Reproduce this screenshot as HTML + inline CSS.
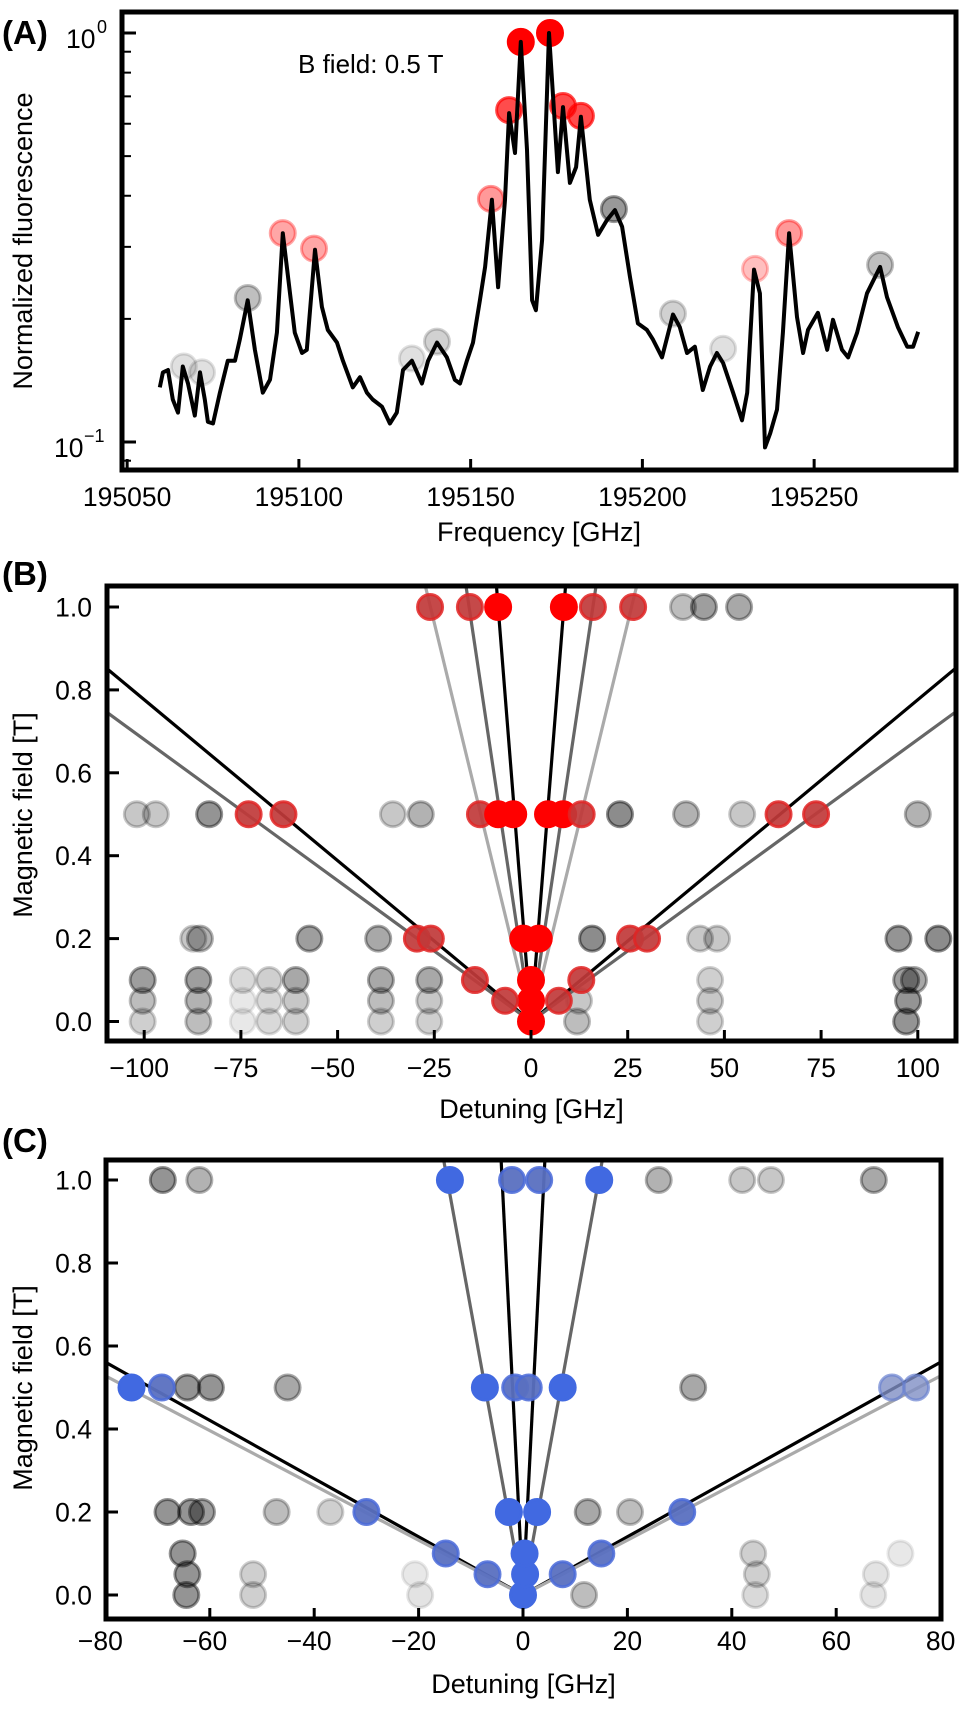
<!DOCTYPE html>
<html><head><meta charset="utf-8"><style>
html,body{margin:0;padding:0;background:#fff;}
svg{display:block;font-family:"Liberation Sans",Arial,sans-serif;}
</style></head><body>
<svg id="fig" width="969" height="1712" viewBox="0 0 969 1712" xmlns="http://www.w3.org/2000/svg">
<defs>
<clipPath id="clipA"><rect x="122" y="12" width="834" height="458"/></clipPath>
<clipPath id="clipB"><rect x="107" y="586" width="849" height="455"/></clipPath>
<clipPath id="clipC"><rect x="106" y="1160" width="835" height="459"/></clipPath>
</defs>
<g id="gA"></g>
<g id="gB"></g>
<g id="gC"></g>
</svg>
<script>
// ---------- Panel A data ----------
const specFreq = [195059.5,195060.4,195061.9,195063.3,195064.8,195066.2,195067.7,195069.7,195071.2,195072.6,195073.5,195075.0,195077.0,195079.3,195081.4,195082.8,195085.1,195087.2,195089.5,195091.6,195093.6,195095.3,195097.4,195098.8,195100.9,195102.3,195104.7,195106.7,195108.4,195111.1,195112.8,195115.7,195117.8,195119.8,195121.5,195124.2,195126.5,195128.5,195130.3,195132.9,195134.4,195135.8,195137.6,195140.2,195143.1,195145.4,195146.9,195148.9,195150.7,195152.7,195154.2,195156.2,195158.0,195160.0,195161.2,195162.9,195164.6,195166.4,195167.9,195169.0,195170.8,195172.8,195175.4,195176.9,195178.9,195180.7,195182.1,195184.7,195187.1,195189.7,195192.0,195194.1,195196.4,195198.7,195201.3,195203.1,195205.7,195208.9,195210.9,195213.0,195215.3,195217.6,195219.7,195221.7,195223.5,195226.4,195229.0,195230.5,195232.5,195234.2,195235.7,195237.2,195239.2,195240.9,195242.7,195245.0,195246.8,195248.2,195251.1,195253.8,195255.5,195258.1,195259.9,195262.5,195265.4,195269.2,195271.2,195274.4,195277.1,195278.8,195280.3];
const specValue = [0.136,0.148,0.150,0.127,0.118,0.153,0.139,0.116,0.148,0.127,0.112,0.111,0.132,0.158,0.158,0.178,0.222,0.168,0.132,0.142,0.185,0.324,0.231,0.185,0.165,0.168,0.295,0.214,0.188,0.175,0.158,0.136,0.144,0.132,0.127,0.122,0.111,0.118,0.150,0.158,0.148,0.139,0.158,0.175,0.161,0.142,0.139,0.158,0.175,0.222,0.268,0.391,0.239,0.391,0.637,0.509,0.951,0.518,0.222,0.210,0.312,1.0,0.457,0.659,0.430,0.470,0.624,0.391,0.321,0.349,0.369,0.336,0.253,0.195,0.188,0.178,0.161,0.205,0.191,0.165,0.171,0.134,0.153,0.165,0.156,0.132,0.113,0.132,0.264,0.231,0.097,0.105,0.120,0.185,0.324,0.202,0.165,0.188,0.207,0.168,0.199,0.168,0.161,0.185,0.231,0.268,0.226,0.191,0.171,0.171,0.186];
const peakFreq = [195066.5,195071.8,195085.1,195095.3,195104.4,195132.9,195140.2,195155.9,195161.2,195164.6,195173.1,195176.9,195182.1,195191.7,195208.9,195223.5,195232.8,195242.7,195269.2];
const peakValue = [0.153,0.148,0.225,0.324,0.297,0.160,0.176,0.393,0.648,0.951,1.0,0.663,0.627,0.371,0.206,0.169,0.265,0.324,0.271];
const peakColor = ['k','k','k','r','r','k','k','r','r','r','r','r','r','k','k','k','r','r','k'];
const peakAlpha = [0.12,0.12,0.25,0.35,0.35,0.12,0.18,0.4,0.7,1,1,0.7,0.7,0.4,0.18,0.12,0.25,0.4,0.25];
const aXTicks = [195050,195100,195150,195200,195250];

// ---------- Panel B data ----------
const bRedDet   = [0,0,-6.7,7.2,0,-14.5,13,-2,2,-29.5,-25.9,25.6,30,-73,-64,-13.2,-8.5,-4.6,4.4,8.3,13.1,64,73.7,-26.1,-15.8,-8.5,8.5,16,26.4];
const bRedField = [0,0.05,0.05,0.05,0.1,0.1,0.1,0.2,0.2,0.2,0.2,0.2,0.2,0.5,0.5,0.5,0.5,0.5,0.5,0.5,0.5,0.5,0.5,1,1,1,1,1,1];
const bRedLevel = [1,1,2,2,1,2,2,1,1,2,2,2,2,2,2,2,1,1,1,1,2,2,2,2,2,1,1,2,2];
const bGrayDet   = [39.3,44.7,53.8,-101.9,-97,-83.2,-35.7,-28.5,23,40.1,54.6,100,-87.3,-85.6,-57.3,-39.5,15.8,43.7,48.1,95,105.3,-100.4,-100.4,-100.4,-86,-86,-86,-74.5,-74.5,-74.5,-67.7,-67.7,-67.7,-60.8,-60.8,-60.8,-38.8,-38.8,-38.8,-26.3,-26.3,-26.3,12.4,11.9,46.3,46.3,46.3,97,99,97.5,97];
const bGrayField = [1,1,1,0.5,0.5,0.5,0.5,0.5,0.5,0.5,0.5,0.5,0.2,0.2,0.2,0.2,0.2,0.2,0.2,0.2,0.2,0.1,0.05,0,0.1,0.05,0,0.1,0.05,0,0.1,0.05,0,0.1,0.05,0,0.1,0.05,0,0.1,0.05,0,0.05,0,0.1,0.05,0,0.1,0.1,0.05,0];
const bGrayAlpha = [0.26,0.38,0.34,0.22,0.22,0.42,0.22,0.3,0.45,0.3,0.22,0.3,0.22,0.3,0.38,0.34,0.45,0.22,0.22,0.42,0.45,0.38,0.26,0.19,0.38,0.3,0.26,0.15,0.09,0.09,0.19,0.15,0.15,0.34,0.22,0.19,0.34,0.26,0.19,0.34,0.22,0.19,0.22,0.26,0.19,0.22,0.19,0.38,0.34,0.42,0.42];
const bLineDetAt1 = [128.8,147,8.5,16,26];
const bLineColor  = ['#000','#666','#000','#666','#aaa'];
const bXTicks = [-100,-75,-50,-25,0,25,50,75,100];
const fieldTicks = [0,0.2,0.4,0.6,0.8,1.0];

// ---------- Panel C data ----------
const cBlueDet   = [0,0.4,-6.8,7.6,0.3,-14.8,15,-2.7,2.7,-30,30.5,-75,-69.2,-7.3,-1.5,1.1,7.6,70.7,75.3,-14,-2.1,3.1,14.6];
const cBlueField = [0,0.05,0.05,0.05,0.1,0.1,0.1,0.2,0.2,0.2,0.2,0.5,0.5,0.5,0.5,0.5,0.5,0.5,0.5,1,1,1,1];
const cBlueLevel = [1,1,2,2,1,2,2,1,1,2,2,1,2,1,2,2,1,3,3,1,2,2,1];
const cGrayDet   = [-69,-62,26,42,47.5,67.2,-64.3,-59.8,-45.1,32.6,-68.1,-63.6,-61.5,-47.2,-36.9,12.4,20.5,-65.2,44.1,72.3,-64.3,-51.7,-20.7,44.8,67.6,-64.5,-51.7,-19.7,11.7,44.5,67.1];
const cGrayField = [1,1,1,1,1,1,0.5,0.5,0.5,0.5,0.2,0.2,0.2,0.2,0.2,0.2,0.2,0.1,0.1,0.1,0.05,0.05,0.05,0.05,0.05,0,0,0,0,0,0];
const cGrayAlpha = [0.42,0.3,0.3,0.22,0.22,0.34,0.42,0.42,0.34,0.34,0.42,0.42,0.38,0.26,0.19,0.34,0.26,0.42,0.19,0.09,0.42,0.19,0.09,0.19,0.11,0.42,0.19,0.11,0.26,0.15,0.11];
const cLineDetAt1 = [142.6,151.5,4,14.5];
const cLineColor  = ['#000','#aaa','#000','#666'];
const cXTicks = [-80,-60,-40,-20,0,20,40,60,80];

const NS = 'http://www.w3.org/2000/svg';
function mk(parent, tag, attrs, text){
  const e = document.createElementNS(NS, tag);
  for (const k in attrs) e.setAttribute(k, attrs[k]);
  if (text !== undefined) e.textContent = text;
  parent.appendChild(e);
  return e;
}
function fmtMinus(v, dec){ const s = v.toFixed(dec); return s.replace('-', '\u2212'); }

// axis functions
const xA = f => 122 + (f - 195048.5) / (195291.3 - 195048.5) * 834;
const yA = v => 33 - Math.log10(v) * 409;
const xB = d => 531 + d * 3.868;
const yB = b => 1021.5 - b * 414.5;
const xC = d => 523 + d * 5.22;
const yC = b => 1595 - b * 415;

function marker(g, cx, cy, color, alpha, name){
  const c = mk(g, 'circle', {cx: cx, cy: cy, r: 12.5, fill: color, 'fill-opacity': alpha, stroke: color, 'stroke-opacity': alpha, 'stroke-width': 3});
  
  
  return c;
}

// ================= Panel A =================
(function(){
  const g = document.getElementById('gA');
  const plot = mk(g, 'g', {'clip-path': 'url(#clipA)'});
  
  
  let d = '';
  specFreq.forEach((f, i) => { d += (i ? 'L' : 'M') + xA(f).toFixed(1) + ',' + yA(specValue[i]).toFixed(1); });
  peakFreq.forEach((f, i) => {
    marker(plot, xA(f), yA(peakValue[i]), peakColor[i] === 'r' ? '#ff0000' : '#000', peakAlpha[i], 'peak-marker');
  });
  const line = mk(plot, 'path', {d: d, fill: 'none', stroke: '#000', 'stroke-width': 4, 'stroke-linejoin': 'round'});
  
  
  aXTicks.forEach(t => {
    const x = xA(t);
    if (x > 124) mk(g, 'line', {x1: x, x2: x, y1: 470, y2: 459, stroke: '#000', 'stroke-width': 3});
    const tl = mk(g, 'text', {x: x, y: 506, 'font-size': 26.5, 'text-anchor': 'middle'}, String(t));
    
    
  });
  [1, 0.1].forEach(v => mk(g, 'line', {x1: 122, x2: 136, y1: yA(v), y2: yA(v), stroke: '#000', 'stroke-width': 3}));
  [0.09,0.2,0.3,0.4,0.5,0.6,0.7,0.8,0.9].forEach(v => mk(g, 'line', {x1: 122, x2: 131, y1: yA(v), y2: yA(v), stroke: '#000', 'stroke-width': 2}));
  mk(g, 'rect', {x: 122, y: 12, width: 834, height: 458, fill: 'none', stroke: '#000', 'stroke-width': 5});
})();
</script>
<script>
(function(){
  const g = document.getElementById('gA');
  const t1 = mk(g, 'text', {x: 66, y: 48, 'font-size': 26.5}, '10');
  
  
  mk(g, 'text', {x: 97, y: 33, 'font-size': 18}, '0');
  const t2 = mk(g, 'text', {x: 54, y: 457, 'font-size': 26.5}, '10');
  
  
  mk(g, 'text', {x: 84, y: 442, 'font-size': 18}, '\u22121');
  const yl = mk(g, 'text', {x: 0, y: 0, 'font-size': 27, 'text-anchor': 'middle', transform: 'translate(32,241) rotate(-90)'}, 'Normalized fluorescence');
  
  
  const xl = mk(g, 'text', {x: 539, y: 541, 'font-size': 27, 'text-anchor': 'middle'}, 'Frequency [GHz]');
  
  
  const an = mk(g, 'text', {x: 298, y: 73, 'font-size': 26}, 'B field: 0.5 T');
  
  
  const pl = mk(g, 'text', {x: 2, y: 44, 'font-size': 33, 'font-weight': 'bold'}, '(A)');
  
  
})();

function zeemanPanel(gid, clip, box, xs, ys, xTicks, lineDet, lineCol, grayDet, grayField, grayAlpha, colDet, colField, colLevel, colStyles, yTitleY, letter, letterY, xTitleY, tickY){
  const g = document.getElementById(gid);
  const plot = mk(g, 'g', {'clip-path': 'url(#' + clip + ')'});
  
  
  grayDet.forEach((d, i) => marker(plot, xs(d), ys(grayField[i]), '#000', grayAlpha[i], 'unassigned-line-marker'));
  lineDet.forEach((d, i) => {
    [1, -1].forEach(s => {
      const l = mk(plot, 'line', {x1: xs(0), y1: ys(0), x2: xs(s * d * 2), y2: ys(2), stroke: lineCol[i], 'stroke-width': 3.2});
      
      
    });
  });
  colDet.forEach((d, i) => {
    const st = colStyles[colLevel[i]];
    const c = mk(plot, 'circle', {cx: xs(d), cy: ys(colField[i]), r: 12.5, fill: st[0], 'fill-opacity': st[1], stroke: st[2], 'stroke-width': 3, 'stroke-opacity': st[3]});
    
    
  });
  xTicks.forEach(t => {
    const x = xs(t);
    if (x > box[0] + 3 && x < box[2] - 3) mk(g, 'line', {x1: x, x2: x, y1: box[3], y2: box[3] - 11, stroke: '#000', 'stroke-width': 3});
    const tl = mk(g, 'text', {x: x - (t < 0 ? 5 : 0), y: tickY, 'font-size': 26.5, 'text-anchor': 'middle'}, fmtMinus(t, 0));
    
    
  });
  fieldTicks.forEach(t => {
    const y = ys(t);
    mk(g, 'line', {x1: box[0], x2: box[0] + 12, y1: y, y2: y, stroke: '#000', 'stroke-width': 3});
    const tl = mk(g, 'text', {x: 92, y: y + 9.5, 'font-size': 26.5, 'text-anchor': 'end'}, t.toFixed(1));
    
    
  });
  mk(g, 'rect', {x: box[0], y: box[1], width: box[2] - box[0], height: box[3] - box[1], fill: 'none', stroke: '#000', 'stroke-width': 5});
  const yl = mk(g, 'text', {x: 0, y: 0, 'font-size': 27, 'text-anchor': 'middle', transform: 'translate(32,' + yTitleY + ') rotate(-90)'}, 'Magnetic field [T]');
  
  
  const xl = mk(g, 'text', {x: (box[0] + box[2]) / 2, y: xTitleY, 'font-size': 27, 'text-anchor': 'middle'}, 'Detuning [GHz]');
  
  
  const pl = mk(g, 'text', {x: 2, y: letterY, 'font-size': 33, 'font-weight': 'bold'}, letter);
  
  
}
zeemanPanel('gB', 'clipB', [107, 586, 956, 1041], xB, yB, bXTicks, bLineDetAt1, bLineColor,
  bGrayDet, bGrayField, bGrayAlpha, bRedDet, bRedField, bRedLevel,
  {1: ['#ff0000', 1, '#ff0000', 1], 2: ['#c03a3a', 0.92, '#e02424', 0.85]},
  815, '(B)', 585, 1118, 1077);
zeemanPanel('gC', 'clipC', [106, 1160, 941, 1619], xC, yC, cXTicks, cLineDetAt1, cLineColor,
  cGrayDet, cGrayField, cGrayAlpha, cBlueDet, cBlueField, cBlueLevel,
  {1: ['#4169e1', 1, '#4169e1', 1], 2: ['#5a70c0', 0.95, '#4a6ad8', 0.85], 3: ['#7f8fc4', 0.8, '#6a82d0', 0.7]},
  1388, '(C)', 1152, 1693, 1650);
</script>
</body></html>
